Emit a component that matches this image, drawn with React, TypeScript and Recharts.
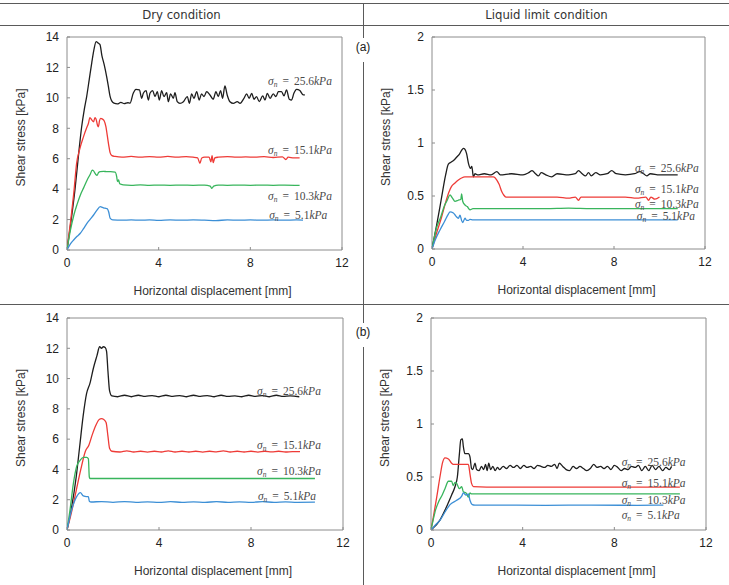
import React from 'react';
import { LineChart, Line, XAxis, YAxis, ReferenceArea, ReferenceDot } from 'recharts';

type Pt = [number, number];

// shear stress [kPa] vs horizontal displacement [mm]
// (a) dry condition
const aDry256: Pt[] = [
  [0, 0], [0.15, 1.6], [0.35, 4.0], [0.5, 6.2], [0.64, 8.1], [0.75, 9.2], [0.86, 10.1], [0.97, 11.2],
  [1.08, 12.3], [1.18, 13.2], [1.27, 13.7], [1.36, 13.6], [1.44, 13.5], [1.52, 12.8], [1.62, 12.2],
  [1.73, 11.4], [1.8, 10.8], [1.88, 10.1], [1.95, 9.8], [2.05, 9.65], [2.2, 9.6], [2.35, 9.7],
  [2.5, 9.62], [2.65, 9.68], [2.75, 9.65], [2.89, 10.3], [3.01, 10.56], [3.16, 10.52], [3.26, 9.97],
  [3.33, 10.3], [3.45, 10.48], [3.55, 9.86], [3.62, 10.3], [3.74, 10.48], [3.84, 10.08], [3.94, 10.41],
  [4.03, 9.86], [4.13, 10.48], [4.23, 10.08], [4.35, 10.34], [4.42, 9.75], [4.52, 10.26], [4.64, 9.97],
  [4.71, 10.34], [4.81, 9.75], [4.93, 9.64], [5.08, 9.75], [5.25, 10.08], [5.34, 9.64], [5.44, 10.26],
  [5.54, 9.97], [5.66, 10.41], [5.77, 9.86], [5.87, 10.26], [5.98, 10.08], [6.09, 10.41], [6.24, 10.19],
  [6.38, 9.91], [6.5, 10.41], [6.6, 10.08], [6.7, 10.48], [6.79, 9.97], [6.89, 10.78], [6.99, 10.19],
  [7.11, 9.75], [7.26, 9.64], [7.43, 9.75], [7.55, 9.64], [7.72, 9.97], [7.84, 10.26], [7.95, 9.97],
  [8.06, 10.3], [8.16, 9.91], [8.27, 10.08], [8.39, 9.75], [8.54, 10.13], [8.64, 9.86], [8.74, 10.3],
  [8.86, 9.97], [9.0, 10.26], [9.12, 10.08], [9.22, 10.41], [9.36, 10.41], [9.47, 10.13], [9.58, 10.52],
  [9.7, 9.91], [9.8, 9.86], [9.9, 10.3], [10.02, 10.56], [10.16, 10.48], [10.31, 10.19], [10.38, 10.2],
];
const aDry151: Pt[] = [
  [0, 0], [0.15, 1.8], [0.3, 3.8], [0.42, 5.7], [0.55, 6.6], [0.71, 7.4], [0.85, 8.0], [0.93, 8.3],
  [1.0, 8.7], [1.08, 8.55], [1.16, 8.43], [1.22, 8.7], [1.27, 8.6], [1.33, 8.2], [1.37, 8.1], [1.42, 8.5],
  [1.47, 8.65], [1.55, 8.6], [1.62, 8.5], [1.7, 8.1], [1.76, 7.5], [1.82, 6.9], [1.88, 6.4], [1.96, 6.2],
  [2.1, 6.15], [2.4, 6.1], [2.8, 6.15], [3.2, 6.1], [3.6, 6.14], [4.0, 6.1], [4.4, 6.15], [4.8, 6.1],
  [5.2, 6.14], [5.5, 6.1], [5.7, 6.05], [5.8, 5.7], [5.88, 6.05], [6.0, 6.1], [6.2, 6.1], [6.28, 5.8],
  [6.33, 6.2], [6.38, 5.75], [6.45, 6.05], [6.6, 6.1], [7.0, 6.14], [7.4, 6.1], [7.8, 6.12], [8.2, 6.1],
  [8.6, 6.14], [9.0, 6.08], [9.4, 6.12], [9.55, 5.95], [9.65, 6.1], [9.9, 6.05], [10.15, 6.05],
];
const aDry103: Pt[] = [
  [0, 0], [0.15, 1.3], [0.3, 2.3], [0.44, 3.0], [0.58, 3.6], [0.73, 4.1], [0.88, 4.6], [1.02, 5.0],
  [1.1, 5.25], [1.16, 5.2], [1.24, 5.0], [1.31, 4.9], [1.38, 5.1], [1.45, 5.15], [1.6, 5.17], [1.73, 5.15],
  [1.9, 5.15], [2.1, 5.12], [2.17, 4.8], [2.2, 4.5], [2.25, 4.6], [2.3, 4.35], [2.45, 4.28], [2.8, 4.25],
  [3.2, 4.28], [3.6, 4.25], [4.0, 4.27], [4.5, 4.25], [5.0, 4.27], [5.5, 4.25], [6.0, 4.27], [6.25, 4.2],
  [6.32, 4.05], [6.4, 4.2], [6.6, 4.27], [7.0, 4.25], [7.5, 4.27], [8.0, 4.25], [8.5, 4.27], [9.0, 4.25],
  [9.5, 4.27], [10.15, 4.25],
];
const aDry51: Pt[] = [
  [0, 0], [0.15, 0.4], [0.29, 0.66], [0.44, 0.9], [0.58, 1.1], [0.72, 1.4], [0.87, 1.75], [1.0, 2.0],
  [1.16, 2.3], [1.3, 2.6], [1.45, 2.85], [1.55, 2.8], [1.66, 2.75], [1.75, 2.72], [1.82, 2.5], [1.88, 2.1],
  [2.0, 1.98], [2.4, 1.96], [2.8, 1.98], [3.2, 1.96], [3.6, 1.98], [4.0, 1.95], [4.5, 1.98], [5.0, 1.96],
  [5.5, 1.98], [6.0, 1.96], [6.5, 1.93], [7.0, 1.98], [7.5, 1.96], [8.0, 1.98], [8.5, 1.96], [9.0, 1.98],
  [9.5, 1.96], [10.0, 1.98], [10.3, 1.97],
];

// (a) liquid limit condition
const aLiq256: Pt[] = [
  [0, 0], [0.2, 0.22], [0.4, 0.46], [0.6, 0.7], [0.72, 0.8], [0.85, 0.82], [0.97, 0.84], [1.1, 0.87],
  [1.19, 0.89], [1.3, 0.93], [1.38, 0.95], [1.45, 0.94], [1.52, 0.9], [1.6, 0.81], [1.69, 0.76],
  [1.75, 0.78], [1.82, 0.68], [1.89, 0.71], [2.0, 0.7], [2.3, 0.71], [2.6, 0.7], [2.85, 0.73], [3.0, 0.7],
  [3.5, 0.71], [4.0, 0.7], [4.25, 0.72], [4.4, 0.74], [4.55, 0.71], [4.68, 0.69], [4.8, 0.72], [5.0, 0.7],
  [5.26, 0.68], [5.5, 0.71], [6.0, 0.7], [6.3, 0.71], [6.44, 0.74], [6.6, 0.71], [6.75, 0.69], [6.88, 0.72],
  [7.0, 0.69], [7.2, 0.72], [7.4, 0.7], [7.7, 0.71], [7.9, 0.74], [8.1, 0.71], [8.5, 0.7], [8.9, 0.71],
  [9.14, 0.73], [9.3, 0.71], [9.44, 0.69], [9.6, 0.71], [10.0, 0.7], [10.4, 0.7], [10.8, 0.7],
];
const aLiq151: Pt[] = [
  [0, 0], [0.2, 0.15], [0.42, 0.3], [0.6, 0.44], [0.75, 0.54], [0.86, 0.59], [1.0, 0.62], [1.16, 0.65],
  [1.3, 0.67], [1.45, 0.68], [1.8, 0.68], [2.2, 0.68], [2.7, 0.68], [2.85, 0.65], [2.95, 0.61], [3.07, 0.54],
  [3.15, 0.51], [3.25, 0.49], [3.6, 0.49], [4.0, 0.49], [4.5, 0.49], [5.0, 0.49], [5.5, 0.49], [6.0, 0.48],
  [6.3, 0.49], [6.44, 0.46], [6.55, 0.49], [7.0, 0.49], [7.5, 0.49], [8.0, 0.49], [8.5, 0.49], [9.0, 0.48],
  [9.4, 0.49], [9.52, 0.46], [9.62, 0.49], [9.8, 0.47], [10.0, 0.49],
];
const aLiq103: Pt[] = [
  [0, 0], [0.2, 0.2], [0.38, 0.3], [0.55, 0.41], [0.67, 0.46], [0.79, 0.51], [0.9, 0.48], [1.01, 0.45],
  [1.15, 0.46], [1.27, 0.47], [1.3, 0.52], [1.35, 0.45], [1.45, 0.415], [1.55, 0.4], [1.67, 0.37],
  [1.8, 0.38], [2.2, 0.38], [3.0, 0.38], [4.0, 0.38], [5.0, 0.38], [6.0, 0.385], [7.0, 0.38], [8.0, 0.38],
  [9.0, 0.38], [10.0, 0.38], [10.8, 0.38],
];
const aLiq51: Pt[] = [
  [0, 0], [0.15, 0.09], [0.35, 0.18], [0.55, 0.26], [0.72, 0.33], [0.79, 0.35], [0.94, 0.34], [1.05, 0.31],
  [1.16, 0.29], [1.23, 0.32], [1.3, 0.27], [1.35, 0.25], [1.45, 0.29], [1.52, 0.27], [1.6, 0.27],
  [1.67, 0.28], [1.8, 0.275], [2.5, 0.275], [4.0, 0.275], [6.0, 0.275], [8.0, 0.275], [10.0, 0.275],
  [10.8, 0.275],
];

// (b) dry condition
const bDry256: Pt[] = [
  [0, 0], [0.2, 1.5], [0.4, 3.5], [0.55, 5.5], [0.7, 7.5], [0.85, 9.0], [1.0, 9.7], [1.15, 10.7],
  [1.3, 11.5], [1.42, 12.1], [1.5, 12.0], [1.58, 12.1], [1.66, 12.05], [1.72, 11.8], [1.78, 10.5],
  [1.85, 9.2], [1.95, 8.85], [2.2, 8.8], [2.5, 8.9], [2.8, 8.8], [3.1, 8.9], [3.4, 8.82], [3.7, 8.88],
  [4.0, 8.8], [4.3, 8.9], [4.6, 8.82], [4.9, 8.88], [5.2, 8.8], [5.5, 8.9], [5.8, 8.83], [6.1, 8.88],
  [6.4, 8.8], [6.7, 8.9], [7.0, 8.82], [7.3, 8.86], [7.6, 8.8], [7.9, 8.9], [8.2, 8.82], [8.5, 8.88],
  [8.8, 8.8], [9.1, 8.9], [9.4, 8.82], [9.7, 8.86], [10.1, 8.8],
];
const bDry151: Pt[] = [
  [0, 0], [0.2, 1.2], [0.4, 2.6], [0.6, 4.0], [0.8, 5.2], [0.95, 5.6], [1.1, 6.3], [1.25, 6.9], [1.4, 7.3],
  [1.5, 7.35], [1.6, 7.3], [1.7, 7.1], [1.78, 6.2], [1.85, 5.4], [1.95, 5.2], [2.3, 5.15], [2.6, 5.22],
  [2.9, 5.15], [3.2, 5.2], [3.5, 5.14], [3.8, 5.2], [4.1, 5.15], [4.4, 5.22], [4.7, 5.15], [5.0, 5.2],
  [5.3, 5.15], [5.6, 5.2], [5.9, 5.14], [6.2, 5.2], [6.5, 5.16], [6.8, 5.22], [7.1, 5.15], [7.4, 5.2],
  [7.7, 5.15], [8.0, 5.2], [8.3, 5.14], [8.6, 5.2], [8.9, 5.16], [9.2, 5.2], [9.5, 5.15], [9.8, 5.18],
  [10.13, 5.17],
];
const bDry103: Pt[] = [
  [0, 0], [0.13, 1.32], [0.28, 3.1], [0.42, 4.2], [0.57, 4.6], [0.71, 4.8], [0.86, 4.8], [0.93, 4.7],
  [0.97, 3.5], [1.0, 3.4], [2.0, 3.4], [4.0, 3.4], [6.0, 3.4], [8.0, 3.4], [10.0, 3.4], [10.78, 3.4],
];
const bDry51: Pt[] = [
  [0, 0], [0.2, 1.32], [0.42, 2.2], [0.58, 2.47], [0.71, 2.25], [0.85, 2.2], [0.93, 2.2], [0.97, 1.9],
  [1.05, 1.85], [1.5, 1.88], [2.0, 1.83], [2.5, 1.88], [3.0, 1.83], [3.5, 1.86], [4.0, 1.82], [4.5, 1.87],
  [5.0, 1.83], [5.5, 1.86], [6.0, 1.83], [6.5, 1.87], [7.0, 1.83], [7.5, 1.86], [8.0, 1.83], [8.5, 1.87],
  [9.0, 1.83], [9.5, 1.86], [10.0, 1.83], [10.78, 1.84],
];

// (b) liquid limit condition
const bLiq256: Pt[] = [
  [0, 0], [0.39, 0.094], [0.68, 0.22], [0.9, 0.33], [1.05, 0.41], [1.15, 0.5], [1.24, 0.72], [1.3, 0.85],
  [1.37, 0.86], [1.41, 0.79], [1.48, 0.72], [1.63, 0.72], [1.7, 0.69], [1.77, 0.58], [1.82, 0.57],
  [1.92, 0.63], [1.99, 0.57], [2.1, 0.56], [2.2, 0.6], [2.3, 0.57], [2.38, 0.62], [2.45, 0.56], [2.52, 0.63],
  [2.6, 0.57], [2.7, 0.6], [2.8, 0.56], [2.9, 0.59], [3.0, 0.57], [3.15, 0.6], [3.3, 0.58], [3.45, 0.61],
  [3.6, 0.59], [3.75, 0.61], [3.9, 0.58], [4.05, 0.61], [4.2, 0.59], [4.35, 0.6], [4.5, 0.58], [4.65, 0.61],
  [4.8, 0.6], [4.95, 0.59], [5.1, 0.61], [5.25, 0.6], [5.4, 0.62], [5.5, 0.58], [5.6, 0.63], [5.75, 0.6],
  [5.9, 0.57], [6.05, 0.56], [6.2, 0.6], [6.35, 0.58], [6.5, 0.6], [6.65, 0.58], [6.8, 0.56], [6.95, 0.58],
  [7.1, 0.62], [7.25, 0.59], [7.4, 0.6], [7.55, 0.58], [7.7, 0.6], [7.85, 0.57], [8.0, 0.61], [8.15, 0.59],
  [8.3, 0.56], [8.45, 0.58], [8.6, 0.57], [8.75, 0.6], [8.9, 0.59], [9.05, 0.61], [9.2, 0.56], [9.35, 0.6],
  [9.5, 0.56], [9.65, 0.61], [9.8, 0.57], [9.95, 0.6], [10.1, 0.56], [10.25, 0.59], [10.4, 0.57], [10.5, 0.6],
];
const bLiq151: Pt[] = [
  [0, 0], [0.1, 0.12], [0.25, 0.31], [0.39, 0.5], [0.51, 0.64], [0.61, 0.68], [0.76, 0.67], [0.9, 0.63],
  [0.97, 0.62], [1.3, 0.62], [1.63, 0.62], [1.7, 0.53], [1.77, 0.44], [1.85, 0.41], [3.0, 0.405],
  [5.0, 0.405], [7.0, 0.405], [9.0, 0.405], [10.86, 0.405],
];
const bLiq103: Pt[] = [
  [0, 0], [0.1, 0.1], [0.2, 0.19], [0.34, 0.27], [0.49, 0.33], [0.61, 0.39], [0.76, 0.46], [0.9, 0.46],
  [0.97, 0.42], [1.05, 0.45], [1.12, 0.44], [1.24, 0.39], [1.34, 0.41], [1.41, 0.36], [1.53, 0.35],
  [1.63, 0.31], [1.7, 0.35], [1.77, 0.34], [3.0, 0.34], [5.0, 0.34], [7.0, 0.34], [9.0, 0.34], [10.86, 0.34],
];
const bLiq51: Pt[] = [
  [0, 0], [0.2, 0.05], [0.39, 0.09], [0.61, 0.17], [0.83, 0.24], [1.12, 0.28], [1.34, 0.32], [1.41, 0.35],
  [1.53, 0.33], [1.63, 0.34], [1.7, 0.28], [1.8, 0.24], [1.92, 0.235], [3.0, 0.235], [5.0, 0.233],
  [7.0, 0.235], [9.0, 0.233], [10.14, 0.235],
];

// normal stress of each curve, top to bottom
const sigmaLevels = ['25.6', '15.1', '10.3', '5.1'];

const xTicks = [0, 4, 8, 12];
const dryTicks = [0, 2, 4, 6, 8, 10, 12, 14];
const liquidTicks = [0, 0.5, 1, 1.5, 2];

// where each σn note starts (displacement, stress)
const aDryNotes: Pt[] = [[8.77, 10.85], [8.77, 6.34], [8.77, 3.29], [8.82, 2.04]];
const aLiqNotes: Pt[] = [[8.92, 0.728], [8.92, 0.524], [8.92, 0.39], [9.0, 0.27]];
const bDryNotes: Pt[] = [[8.26, 8.92], [8.26, 5.35], [8.26, 3.63], [8.3, 1.98]];
const bLiqNotes: Pt[] = [[8.32, 0.606], [8.32, 0.41], [8.32, 0.25], [8.32, 0.1]];

const colors = ['#1e1e1e', '#ee3b37', '#38b55c', '#3c8fd6'];
const sans = "'Liberation Sans', Arial, sans-serif";
const serif = "'Liberation Serif', 'Times New Roman', serif";

const toRows = (pts: Pt[]) => pts.map(([x, y]) => ({ x, y }));

const SigmaNote = ({ viewBox, level }: any) => {
  const x = viewBox.x + viewBox.width / 2;
  const y = viewBox.y + viewBox.height / 2;
  return (
    <text x={x} y={y} fontFamily={serif} fontSize={11.5} fill="#4a4a4a">
      <tspan fontStyle="italic">σ</tspan>
      <tspan fontStyle="italic" fontSize={7.5} dy={2}>n</tspan>
      <tspan dy={-2} dx={5}>=</tspan>
      <tspan dx={5}>{level}</tspan>
      <tspan fontStyle="italic">kPa</tspan>
    </text>
  );
};

const XTitle = ({ viewBox }: any) => (
  <text
    x={viewBox.x + viewBox.width / 2 + 8}
    y={viewBox.y + 45}
    textAnchor="middle"
    fontFamily={sans}
    fontSize={12}
    fill="#333"
  >
    Horizontal displacement [mm]
  </text>
);

const YTitle = ({ viewBox }: any) => {
  const cx = viewBox.x + viewBox.width - 46;
  const cy = viewBox.y + viewBox.height / 2 - 6;
  return (
    <text
      x={cx}
      y={cy}
      transform={`rotate(-90 ${cx} ${cy})`}
      textAnchor="middle"
      dominantBaseline="central"
      fontFamily={sans}
      fontSize={12}
      fill="#333"
    >
      Shear stress [kPa]
    </text>
  );
};

interface PanelProps {
  left: number;
  top: number;
  width: number;
  height: number;
  margin: { top: number; right: number; bottom: number; left: number };
  yWidth: number;
  yMax: number;
  yTicks: number[];
  series: Pt[][];
  notes: Pt[];
}

const ShearPanel = ({ left, top, width, height, margin, yWidth, yMax, yTicks, series, notes }: PanelProps) => (
  <div style={{ position: 'absolute', left, top }}>
    <LineChart width={width} height={height} margin={margin}>
      <XAxis
        type="number"
        dataKey="x"
        domain={[0, 12]}
        ticks={xTicks}
        allowDataOverflow
        height={46}
        axisLine={false}
        tickSize={-3}
        tickMargin={11}
        tickLine={{ stroke: '#8c8c8c' }}
        tick={{ fill: '#222', fontSize: 12, fontFamily: sans }}
        label={{ content: (p: any) => <XTitle viewBox={p.viewBox} /> }}
      />
      <YAxis
        type="number"
        dataKey="y"
        domain={[0, yMax]}
        ticks={yTicks}
        allowDataOverflow
        width={yWidth}
        axisLine={false}
        tickSize={-3}
        tickMargin={11}
        tickLine={{ stroke: '#8c8c8c' }}
        tick={{ fill: '#222', fontSize: 12, fontFamily: sans }}
        label={{ content: (p: any) => <YTitle viewBox={p.viewBox} /> }}
      />
      <ReferenceArea x1={0} x2={12} y1={0} y2={yMax} fill="none" stroke="#8c8c8c" strokeWidth={1} />
      {series.map((pts, i) => (
        <Line
          key={sigmaLevels[i]}
          data={toRows(pts)}
          dataKey="y"
          type="monotone"
          stroke={colors[i]}
          strokeWidth={1.3}
          dot={false}
          activeDot={false}
          isAnimationActive={false}
        />
      ))}
      {notes.map(([x, y], i) => (
        <ReferenceDot
          key={`note-${i}`}
          x={x}
          y={y}
          r={0}
          fill="none"
          stroke="none"
          label={{ content: (p: any) => <SigmaNote viewBox={p.viewBox} level={sigmaLevels[i]} /> }}
        />
      ))}
    </LineChart>
  </div>
);

const rule = (style: React.CSSProperties): React.CSSProperties => ({
  position: 'absolute',
  background: '#5a5a5a',
  ...style,
});

const headText: React.CSSProperties = {
  position: 'absolute',
  top: 7,
  fontFamily: "'Liberation Sans Narrow', 'DejaVu Sans Condensed', 'Liberation Sans', sans-serif",
  fontSize: 13,
  color: '#333',
  textAlign: 'center',
};

const tag: React.CSSProperties = {
  position: 'absolute',
  width: 20,
  background: '#fff',
  fontFamily: sans,
  fontSize: 12,
  color: '#222',
  textAlign: 'center',
};

export default function App() {
  return (
    <div
      style={{
        position: 'absolute',
        left: 0,
        top: 0,
        width: 729,
        height: 585,
        background: '#fff',
        overflow: 'hidden',
      }}
    >
      <div style={rule({ left: 0, top: 3, width: 729, height: 1 })} />
      <div style={rule({ left: 0, top: 25, width: 729, height: 1 })} />
      <div style={rule({ left: 0, top: 304, width: 729, height: 1 })} />
      <div style={rule({ left: 363, top: 3, width: 1, height: 582 })} />
      <div style={{ ...headText, left: 0, width: 363 }}>Dry condition</div>
      <div style={{ ...headText, left: 364, width: 365 }}>Liquid limit condition</div>

      <ShearPanel
        left={0}
        top={27}
        width={363}
        height={277}
        margin={{ top: 10, right: 21, bottom: 8, left: 0 }}
        yWidth={67}
        yMax={14}
        yTicks={dryTicks}
        series={[aDry256, aDry151, aDry103, aDry51]}
        notes={aDryNotes}
      />
      <ShearPanel
        left={365}
        top={27}
        width={364}
        height={277}
        margin={{ top: 10, right: 24, bottom: 9, left: 0 }}
        yWidth={67}
        yMax={2}
        yTicks={liquidTicks}
        series={[aLiq256, aLiq151, aLiq103, aLiq51]}
        notes={aLiqNotes}
      />
      <ShearPanel
        left={0}
        top={306}
        width={363}
        height={278}
        margin={{ top: 12, right: 20, bottom: 8, left: 0 }}
        yWidth={67}
        yMax={14}
        yTicks={dryTicks}
        series={[bDry256, bDry151, bDry103, bDry51]}
        notes={bDryNotes}
      />
      <ShearPanel
        left={365}
        top={306}
        width={364}
        height={278}
        margin={{ top: 12, right: 23, bottom: 8, left: 0 }}
        yWidth={66}
        yMax={2}
        yTicks={liquidTicks}
        series={[bLiq256, bLiq151, bLiq103, bLiq51]}
        notes={bLiqNotes}
      />

      <div style={{ ...tag, left: 353, top: 38, height: 24, lineHeight: '18px' }}>(a)</div>
      <div style={{ ...tag, left: 353, top: 323, height: 24, lineHeight: '18px' }}>(b)</div>
    </div>
  );
}
